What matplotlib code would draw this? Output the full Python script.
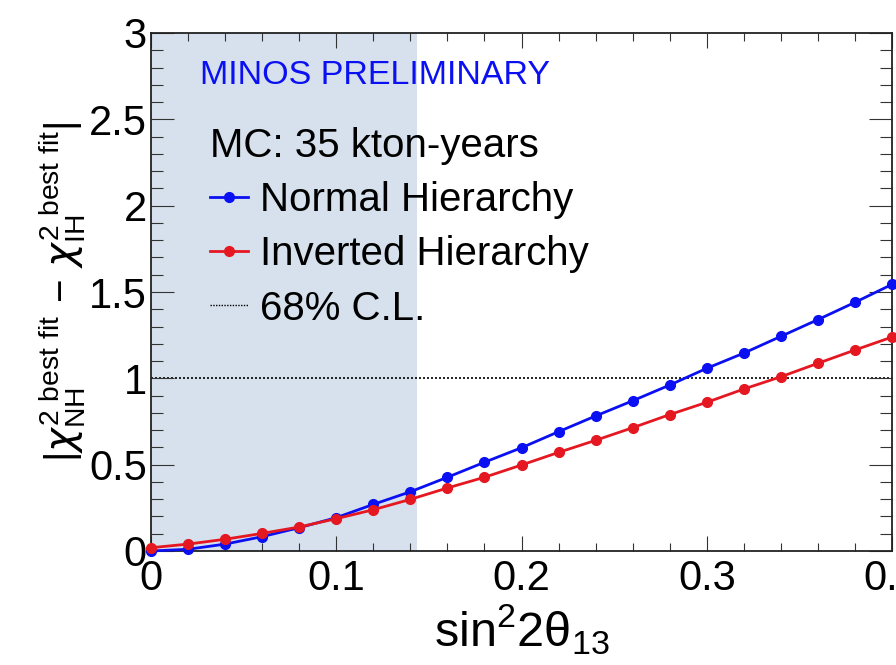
import matplotlib
matplotlib.use("Agg")
import matplotlib.pyplot as plt
from matplotlib.lines import Line2D
from matplotlib.ticker import MultipleLocator

plt.rcParams["font.family"] = ["Liberation Sans", "DejaVu Sans"]
plt.rcParams["mathtext.fontset"] = "custom"
plt.rcParams["mathtext.rm"] = "Liberation Sans"
plt.rcParams["mathtext.it"] = "DejaVu Sans:italic"
plt.rcParams["mathtext.bf"] = "Liberation Sans:bold"
plt.rcParams["mathtext.sf"] = "Liberation Sans"

# sin^2(2 theta_13) grid of the scan
sin2_2theta13 = [0.00, 0.02, 0.04, 0.06, 0.08, 0.10, 0.12, 0.14, 0.16, 0.18, 0.20,
                 0.22, 0.24, 0.26, 0.28, 0.30, 0.32, 0.34, 0.36, 0.38, 0.40]
# |chi2_NH - chi2_IH| at best fit, for each true hierarchy
normal_hierarchy = [0.00, 0.01, 0.04, 0.083, 0.135, 0.193, 0.27, 0.343, 0.427, 0.514, 0.598,
                    0.691, 0.782, 0.87, 0.961, 1.058, 1.146, 1.243, 1.34, 1.44, 1.544]
inverted_hierarchy = [0.019, 0.04, 0.068, 0.102, 0.139, 0.187, 0.239, 0.299, 0.365, 0.427, 0.498,
                      0.571, 0.641, 0.714, 0.79, 0.861, 0.938, 1.009, 1.087, 1.164, 1.239]
cl68_level = 1.0
excluded_max = 0.1438

blue = "#0a10f2"
red = "#e51822"

fig = plt.figure(figsize=(8.96, 6.65), dpi=100)
ax = fig.add_axes([151 / 896, 114 / 665, 741 / 896, 518 / 665])

ax.axvspan(0, excluded_max, color="#d6e1ed", lw=0, zorder=0)
ax.axhline(cl68_level, color="black", ls=(0, (1.2, 1.2)), lw=1.2, zorder=1)

ax.plot(sin2_2theta13, normal_hierarchy, "-o", color=blue, lw=2.0, ms=7,
        clip_on=False, zorder=3)
ax.plot(sin2_2theta13, inverted_hierarchy, "-o", color=red, lw=2.0, ms=7,
        clip_on=False, zorder=4)

ax.set_xlim(0, 0.4)
ax.set_ylim(0, 3)
ax.xaxis.set_major_locator(MultipleLocator(0.1))
ax.xaxis.set_minor_locator(MultipleLocator(0.02))
ax.yaxis.set_major_locator(MultipleLocator(0.5))
ax.yaxis.set_minor_locator(MultipleLocator(0.1))
ax.xaxis.set_major_formatter(plt.FuncFormatter(lambda v, p: f"{v:g}"))
ax.yaxis.set_major_formatter(plt.FuncFormatter(lambda v, p: f"{v:g}"))

ax.tick_params(axis="both", which="both", direction="in", top=True, right=True,
               width=0.8, colors="#333333", labelcolor="black")
ax.tick_params(axis="x", which="major", length=11, labelsize=30, pad=6)
ax.tick_params(axis="x", which="minor", length=5.5)
ax.tick_params(axis="y", which="major", length=16.5, labelsize=30, pad=3)
ax.tick_params(axis="y", which="minor", length=8.5)
for s in ax.spines.values():
    s.set_linewidth(1.3)
    s.set_color("#222222")

ax.set_xlabel(r"sin$^{2}$2$\mathrm{θ}_{13}$", fontsize=35)
ax.xaxis.set_label_coords(0.5, -0.098)
ax.set_ylabel(r"$|\chi^{2\ \mathrm{best\ fit}}_{\mathrm{NH}}\ \mathrm{-}\ \chi^{2\ \mathrm{best\ fit}}_{\mathrm{IH}}|$",
              fontsize=29)
ax.yaxis.set_label_coords(-0.085, 0.5)

ax.text(0.066, 0.918, "MINOS PRELIMINARY", transform=ax.transAxes, color=blue,
        fontsize=24.5, va="center", ha="left")

handles = [
    Line2D([], [], color=blue, lw=2.0, marker="o", ms=7),
    Line2D([], [], color=red, lw=2.0, marker="o", ms=7),
    Line2D([], [], color="black", lw=1.0, ls=(0, (1, 1))),
]
leg = ax.legend(handles, ["Normal Hierarchy", "Inverted Hierarchy", "68% C.L."],
                title="MC: 35 kton-years", title_fontsize=29, fontsize=29,
                loc="upper left", bbox_to_anchor=(0.052, 0.857), frameon=False,
                borderpad=0, handlelength=0.96, handletextpad=0.28,
                labelspacing=0.4, alignment="left")

fig.savefig("out.png", dpi=100)
